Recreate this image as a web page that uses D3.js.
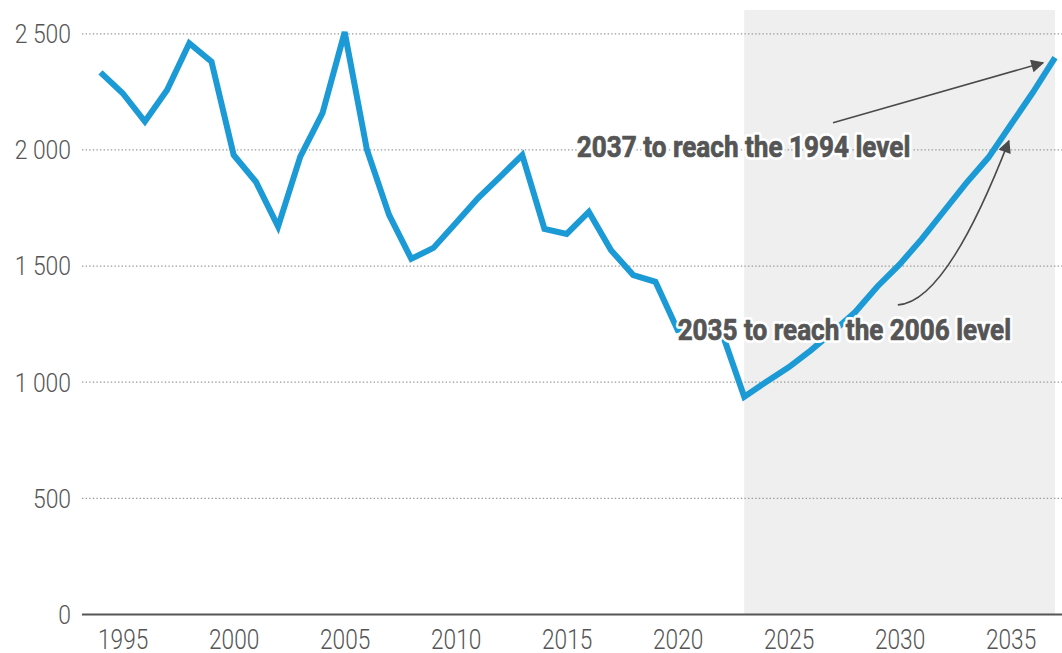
<!DOCTYPE html>
<html lang="en">
<head>
  <meta charset="utf-8">
  <title>Projection</title>
  <script src="https://d3js.org/d3.v7.min.js"></script>
  <style>
    body { margin: 0; background: #fff; }
    #chart text { font-family: Roboto, "DejaVu Sans", sans-serif; }
  </style>
</head>
<body>
  <div id="chart"></div>

  <script type="text/javascript">
    "use strict"
    // observed values, 1994 - 2023
    var anosHist = [1994, 1995, 1996, 1997, 1998, 1999, 2000, 2001, 2002, 2003,
                    2004, 2005, 2006, 2007, 2008, 2009, 2010, 2011, 2012, 2013,
                    2014, 2015, 2016, 2017, 2018, 2019, 2020, 2021, 2022, 2023];
    var valoresHist = [2332, 2242, 2120, 2256, 2457, 2378, 1976, 1861, 1668, 1969,
                       2156, 2505, 2000, 1718, 1529, 1576, 1682, 1790, 1882, 1976,
                       1658, 1636, 1731, 1566, 1459, 1430, 1223, 1240, 1210, 935];
    // projection, 2024 - 2037
    var anosProj = [2024, 2025, 2026, 2027, 2028, 2029, 2030, 2031, 2032, 2033,
                    2034, 2035, 2036, 2037];
    var valoresProj = [1000, 1062, 1135, 1215, 1300, 1410, 1505, 1615, 1735, 1855,
                       1965, 2105, 2245, 2395];

    var inicioProj = 2023, fimProj = 2037;
    var ticksX = [1995, 2000, 2005, 2010, 2015, 2020, 2025, 2030, 2035];
    var ticksY = [0, 500, 1000, 1500, 2000, 2500];

    var notas = [
      {texto: "2037 to reach the 1994 level", ano: 2015.46, valor: 1967},
      {texto: "2035 to reach the 2006 level", ano: 2020.0, valor: 1180}
    ];
    var setaReta = {de: [2027.0, 2115], para: [2036.46, 2373]};
    var setaCurva = {de: [2029.92, 1331], ctrl: [2032.1, 1340], para: [2034.92, 2037]};

    var larguraSVG = 1062, alturaSVG = 653;
    var margin = {top: 10, right: 0, bottom: 39, left: 82};

    var svg = d3.select('#chart')
      .append('svg')
        .attr('width', larguraSVG)
        .attr('height', alturaSVG);

    // scales: 1994 -> 100.5px, 2037 -> 1055px
    var x = d3.scaleLinear()
      .domain([1994, 2037])
      .range([100.5, 1055]);
    var y = d3.scaleLinear()
      .domain([0, 2500])
      .range([614, 33.3]);

    var fmt = d3.formatLocale({decimal: ".", thousands: " ", grouping: [3], currency: ["", ""]}).format(",");

    // squeeze Roboto a bit to look condensed
    function condensa(sel, k) {
      sel.each(function() {
        var w = this.getComputedTextLength();
        d3.select(this).attr('textLength', w * k).attr('lengthAdjust', 'spacingAndGlyphs');
      });
    }

    // shaded projection area
    svg.append('rect')
      .attr('x', x(inicioProj))
      .attr('y', margin.top)
      .attr('width', x(fimProj) - x(inicioProj))
      .attr('height', y(0) - margin.top)
      .attr('fill', '#efefef');

    // y axis + gridlines
    var eixoY = svg.append('g')
      .attr('transform', 'translate(' + margin.left + ',0)')
      .call(d3.axisLeft(y)
        .tickValues(ticksY)
        .tickSize(-(larguraSVG - margin.left))
        .tickPadding(11)
        .tickFormat(fmt));
    eixoY.select('.domain').remove();
    eixoY.selectAll('line')
      .attr('stroke', '#999')
      .attr('stroke-width', 1.2)
      .attr('stroke-dasharray', '1.4,2.2');
    eixoY.selectAll('.tick').filter(d => d === 0).select('line')
      .attr('stroke', '#555')
      .attr('stroke-width', 2.2)
      .attr('stroke-dasharray', null);
    eixoY.selectAll('text')
      .attr('font-size', 26)
      .attr('font-weight', 300)
      .attr('fill', '#555')
      .attr('dy', '0.36em');
    condensa(eixoY.selectAll('text'), 0.88);

    // x axis labels
    var eixoX = svg.append('g')
      .attr('transform', 'translate(0,' + y(0) + ')')
      .call(d3.axisBottom(x)
        .tickValues(ticksX)
        .tickSize(0)
        .tickPadding(16)
        .tickFormat(d3.format('d')));
    eixoX.select('.domain').remove();
    eixoX.selectAll('text')
      .attr('font-size', 27)
      .attr('font-weight', 300)
      .attr('fill', '#555');
    condensa(eixoX.selectAll('text'), 0.84);

    // the line
    var serie = anosHist.map((a, i) => ({ano: a, valor: valoresHist[i]}))
      .concat(anosProj.map((a, i) => ({ano: a, valor: valoresProj[i]})));
    var linha = d3.line()
      .x(d => x(d.ano))
      .y(d => y(d.valor));
    svg.append('path')
      .datum(serie)
      .attr('d', linha)
      .attr('fill', 'none')
      .attr('stroke', '#1b9ad6')
      .attr('stroke-width', 6)
      .attr('stroke-linejoin', 'miter');

    // arrows
    svg.append('defs').append('marker')
      .attr('id', 'ponta')
      .attr('viewBox', '0 0 10 10')
      .attr('refX', 9).attr('refY', 5)
      .attr('markerWidth', 17).attr('markerHeight', 13)
      .attr('markerUnits', 'userSpaceOnUse')
      .attr('orient', 'auto')
      .append('path')
        .attr('d', 'M0,0 L10,5 L0,10 Z')
        .attr('fill', '#4a4a4a');

    svg.append('line')
      .attr('x1', x(setaReta.de[0])).attr('y1', y(setaReta.de[1]))
      .attr('x2', x(setaReta.para[0])).attr('y2', y(setaReta.para[1]))
      .attr('stroke', '#4a4a4a')
      .attr('stroke-width', 1.6)
      .attr('marker-end', 'url(#ponta)');

    var p = d3.path();
    p.moveTo(x(setaCurva.de[0]), y(setaCurva.de[1]));
    p.quadraticCurveTo(x(setaCurva.ctrl[0]), y(setaCurva.ctrl[1]), x(setaCurva.para[0]), y(setaCurva.para[1]));
    svg.append('path')
      .attr('d', p.toString())
      .attr('fill', 'none')
      .attr('stroke', '#4a4a4a')
      .attr('stroke-width', 1.6)
      .attr('marker-end', 'url(#ponta)');

    // annotation texts: white halo first, then the bold text on top
    function escreveNotas(classe, halo) {
      var t = svg.selectAll('.' + classe)
        .data(notas)
        .enter()
        .append('text')
          .attr('class', classe)
          .attr('x', d => x(d.ano))
          .attr('y', d => y(d.valor))
          .attr('font-size', 29)
          .attr('font-weight', 700)
          .attr('fill', halo ? '#fff' : '#555')
          .attr('stroke', halo ? '#fff' : '#555')
          .attr('stroke-width', halo ? 6 : 0.7)
          .attr('stroke-linejoin', 'round')
          .text(d => d.texto);
      condensa(t, 0.9);
    }
    escreveNotas('halo', true);
    escreveNotas('nota', false);
  </script>
</body>
</html>
